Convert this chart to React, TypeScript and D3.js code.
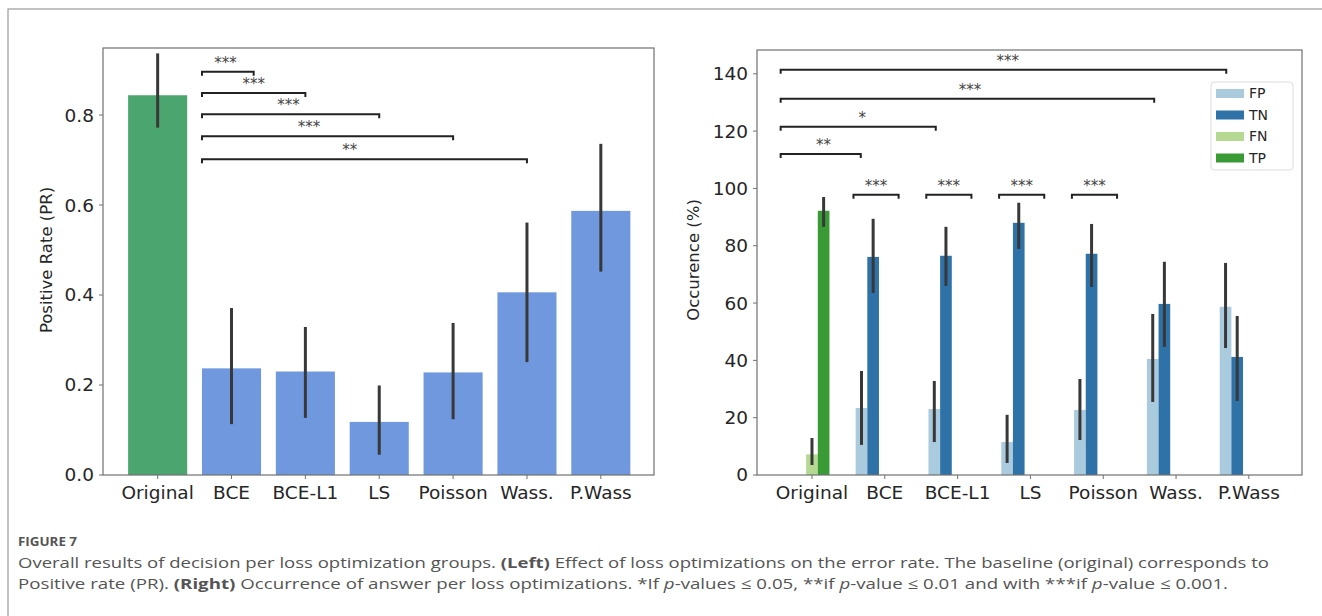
import React from 'react';
import * as d3 from 'd3';

// categories (same for both panels)
const categories = ['Original', 'BCE', 'BCE-L1', 'LS', 'Poisson', 'Wass.', 'P.Wass'];

// left panel: positive rate with CI
const prMean = [0.844, 0.237, 0.23, 0.118, 0.228, 0.406, 0.587];
const prLow = [0.772, 0.113, 0.127, 0.045, 0.124, 0.251, 0.452];
const prHigh = [0.937, 0.371, 0.329, 0.199, 0.338, 0.561, 0.736];
const prTicks = [0.0, 0.2, 0.4, 0.6, 0.8];

// right panel: occurrence (%) per answer type
const hueNames = ['FP', 'TN', 'FN', 'TP'];
const fpMean = [null, 23.4, 23.0, 11.5, 22.7, 40.5, 58.7];
const fpLow = [null, 10.5, 11.5, 4.2, 12.2, 25.5, 44.3];
const fpHigh = [null, 36.3, 32.8, 21.0, 33.5, 56.2, 74.0];
const tnMean = [null, 76.1, 76.5, 88.0, 77.2, 59.7, 41.2];
const tnLow = [null, 63.5, 66.0, 78.9, 65.6, 44.7, 25.8];
const tnHigh = [null, 89.4, 86.6, 95.0, 87.6, 74.4, 55.5];
const fnMean = [7.2, null, null, null, null, null, null];
const fnLow = [3.5, null, null, null, null, null, null];
const fnHigh = [12.9, null, null, null, null, null, null];
const tpMean = [92.2, null, null, null, null, null, null];
const tpLow = [86.6, null, null, null, null, null, null];
const tpHigh = [97.0, null, null, null, null, null, null];
const occTicks = [0, 20, 40, 60, 80, 100, 120, 140];

// significance brackets (x in category units, y in data units)
const leftBrackets = [
  { x0: 0.6, x1: 1.3, y: 0.896, label: '***', lx: 0.92 },
  { x0: 0.6, x1: 2.0, y: 0.849, label: '***', lx: 1.3 },
  { x0: 0.6, x1: 3.0, y: 0.802, label: '***', lx: 1.77 },
  { x0: 0.6, x1: 4.0, y: 0.753, label: '***', lx: 2.05 },
  { x0: 0.6, x1: 5.0, y: 0.702, label: '**', lx: 2.6 },
];
const rightBrackets = [
  { x0: -0.43, x1: 5.69, y: 141.4, label: '***', lx: 2.69 },
  { x0: -0.43, x1: 4.7, y: 131.3, label: '***', lx: 2.17 },
  { x0: -0.43, x1: 1.7, y: 121.5, label: '*', lx: 0.69 },
  { x0: -0.43, x1: 0.67, y: 112.0, label: '**', lx: 0.16 },
  { x0: 0.57, x1: 1.19, y: 97.8, label: '***', lx: 0.88 },
  { x0: 1.57, x1: 2.19, y: 97.8, label: '***', lx: 1.88 },
  { x0: 2.57, x1: 3.19, y: 97.8, label: '***', lx: 2.88 },
  { x0: 3.57, x1: 4.19, y: 97.8, label: '***', lx: 3.88 },
];

const hueColors = ['#aacadd', '#2e72a8', '#b5d992', '#3a9a36'];
const tickFont = 'DejaVu Sans, sans-serif';
const ink = '#262626';
const spine = '#707070';
const errColor = '#383838';
const tickSize = 18.5;

const LeftPanel = () => {
  const x = d3.scaleLinear().domain([-0.74, 6.72]).range([103, 654]);
  const y = d3.scaleLinear().domain([0, 0.949]).range([475, 48]);
  const bw = x(0.8) - x(0);
  return (
    <g>
      {categories.map((c, i) => (
        <rect key={c} x={x(i) - bw / 2} y={y(prMean[i])} width={bw} height={y(0) - y(prMean[i])}
          fill={i === 0 ? '#4ba56f' : '#7098de'} />
      ))}
      {categories.map((c, i) => (
        <line key={c} x1={x(i)} x2={x(i)} y1={y(prLow[i])} y2={y(prHigh[i])} stroke={errColor} strokeWidth={3} />
      ))}
      {leftBrackets.map((b, i) => (
        <g key={i}>
          <path d={`M${x(b.x0)},${y(b.y) + 4}V${y(b.y)}H${x(b.x1)}V${y(b.y) + 4}`} fill="none" stroke="#222" strokeWidth={2} />
          <text x={x(b.lx)} y={y(b.y) - 4} textAnchor="middle" fontSize={15} fill="#444" fontFamily={tickFont}>{b.label}</text>
        </g>
      ))}
      <rect x={x(-0.74)} y={48} width={x(6.72) - x(-0.74)} height={427} fill="none" stroke={spine} strokeWidth={1.2} />
      {prTicks.map(t => (
        <g key={t}>
          <line x1={99} x2={103} y1={y(t)} y2={y(t)} stroke={spine} />
          <text x={94} y={y(t)} dy="0.35em" textAnchor="end" fontSize={tickSize} fill={ink} fontFamily={tickFont}>{d3.format('.1f')(t)}</text>
        </g>
      ))}
      {categories.map((c, i) => (
        <g key={c}>
          <line x1={x(i)} x2={x(i)} y1={475} y2={479} stroke={spine} />
          <text x={x(i)} y={499} textAnchor="middle" fontSize={tickSize} fill={ink} fontFamily={tickFont}>{c}</text>
        </g>
      ))}
      <text transform="translate(52,260) rotate(-90)" textAnchor="middle" fontSize={16.5} fill={ink} fontFamily={tickFont}>Positive Rate (PR)</text>
    </g>
  );
};

const RightPanel = () => {
  const x = d3.scaleLinear().domain([-0.755, 6.73]).range([757, 1302]);
  const y = d3.scaleLinear().domain([0, 148.3]).range([475, 50]);
  const slot = x(0.16) - x(0);
  const series = [
    [fpMean, fpLow, fpHigh],
    [tnMean, tnLow, tnHigh],
    [fnMean, fnLow, fnHigh],
    [tpMean, tpLow, tpHigh],
  ];
  return (
    <g>
      {series.map(([m], h) => categories.map((c, i) => m[i] == null ? null : (
        <rect key={h + c} x={x(i - 0.4 + 0.16 * h)} y={y(m[i] as number)} width={slot}
          height={y(0) - y(m[i] as number)} fill={hueColors[h]} />
      )))}
      {series.map(([m, lo, hi], h) => categories.map((c, i) => m[i] == null ? null : (
        <line key={h + c} x1={x(i - 0.32 + 0.16 * h)} x2={x(i - 0.32 + 0.16 * h)} y1={y(lo[i] as number)} y2={y(hi[i] as number)}
          stroke={errColor} strokeWidth={3} />
      )))}
      {rightBrackets.map((b, i) => (
        <g key={i}>
          <path d={`M${x(b.x0)},${y(b.y) + 4}V${y(b.y)}H${x(b.x1)}V${y(b.y) + 4}`} fill="none" stroke="#222" strokeWidth={2} />
          <text x={x(b.lx)} y={y(b.y) - 4} textAnchor="middle" fontSize={15} fill="#444" fontFamily={tickFont}>{b.label}</text>
        </g>
      ))}
      <rect x={757} y={50} width={1302 - 757} height={425} fill="none" stroke={spine} strokeWidth={1.2} />
      {occTicks.map(t => (
        <g key={t}>
          <line x1={753} x2={757} y1={y(t)} y2={y(t)} stroke={spine} />
          <text x={748} y={y(t)} dy="0.35em" textAnchor="end" fontSize={tickSize} fill={ink} fontFamily={tickFont}>{t}</text>
        </g>
      ))}
      {categories.map((c, i) => (
        <g key={c}>
          <line x1={x(i)} x2={x(i)} y1={475} y2={479} stroke={spine} />
          <text x={x(i)} y={499} textAnchor="middle" fontSize={tickSize} fill={ink} fontFamily={tickFont}>{c}</text>
        </g>
      ))}
      <text transform="translate(699,260) rotate(-90)" textAnchor="middle" fontSize={16.5} fill={ink} fontFamily={tickFont}>Occurence (%)</text>
      <g>
        <rect x={1211} y={82} width={82} height={88} rx={3} fill="#fff" fillOpacity={0.85} stroke="#dcdcdc" />
        {hueNames.map((n, i) => (
          <g key={n}>
            <rect x={1216} y={89 + i * 21.5} width={28} height={9} fill={hueColors[i]} />
            <text x={1249} y={93.5 + i * 21.5} dy="0.35em" fontSize={14} fill={ink} fontFamily={tickFont}>{n}</text>
          </g>
        ))}
      </g>
    </g>
  );
};

export default function App() {
  const capFont = '"Liberation Sans Narrow", "Open Sans", sans-serif';
  return (
    <svg width={1322} height={616} style={{ position: 'absolute', left: 0, top: 0, background: '#fff' }}>
      <rect x={0} y={0} width={1322} height={616} fill="#fff" />
      <rect x={8} y={9} width={1330} height={620} fill="none" stroke="#9a9a9a" strokeWidth={1.2} />
      <LeftPanel />
      <RightPanel />
      <text x={18} y={546} fontSize={13} fontWeight="bold" fill="#555" fontFamily={capFont} textLength={59} lengthAdjust="spacingAndGlyphs">FIGURE 7</text>
      <text x={18} y={568} fontSize={15} fill="#555" fontFamily={capFont} textLength={1251} lengthAdjust="spacingAndGlyphs">
        Overall results of decision per loss optimization groups. <tspan fontWeight="bold">(Left)</tspan> Effect of loss optimizations on the error rate. The baseline (original) corresponds to
      </text>
      <text x={18} y={589} fontSize={15} fill="#555" fontFamily={capFont} textLength={1210} lengthAdjust="spacingAndGlyphs">
        Positive rate (PR). <tspan fontWeight="bold">(Right)</tspan> Occurrence of answer per loss optimizations. *If <tspan fontStyle="italic">p</tspan>-values ≤ 0.05, **if <tspan fontStyle="italic">p</tspan>-value ≤ 0.01 and with ***if <tspan fontStyle="italic">p</tspan>-value ≤ 0.001.
      </text>
    </svg>
  );
}
